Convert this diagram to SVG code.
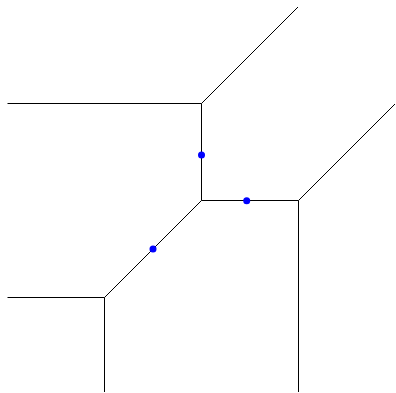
<svg xmlns="http://www.w3.org/2000/svg" width="396" height="393" viewBox="0 0 396 393">
<style>
.e{stroke:#000;stroke-width:1;fill:none}
.p{fill:#0000ff}
</style>
<rect width="396" height="393" fill="#fff"/>
<g id="connectors">
<line class="e" x1="7.5" y1="103.5" x2="201.5" y2="103.5"/>
<line class="e" x1="201.5" y1="103.5" x2="298" y2="7"/>
<line class="e" x1="201.5" y1="103.5" x2="201.5" y2="200.5"/>
<line class="e" x1="201.5" y1="200.5" x2="298.5" y2="200.5"/>
<line class="e" x1="298.5" y1="200.5" x2="395" y2="104"/>
<line class="e" x1="298.5" y1="200.5" x2="298.5" y2="392"/>
<line class="e" x1="201.5" y1="200.5" x2="104.5" y2="297.5"/>
<line class="e" x1="7.5" y1="297.5" x2="104.5" y2="297.5"/>
<line class="e" x1="104.5" y1="297.5" x2="104.5" y2="392"/>
</g>
<g id="p1"><circle class="p" cx="201.5" cy="155" r="3.5"/></g>
<g id="p2"><circle class="p" cx="246.7" cy="200.7" r="3.5"/></g>
<g id="p3"><circle class="p" cx="153" cy="249" r="3.5"/></g>
</svg>
